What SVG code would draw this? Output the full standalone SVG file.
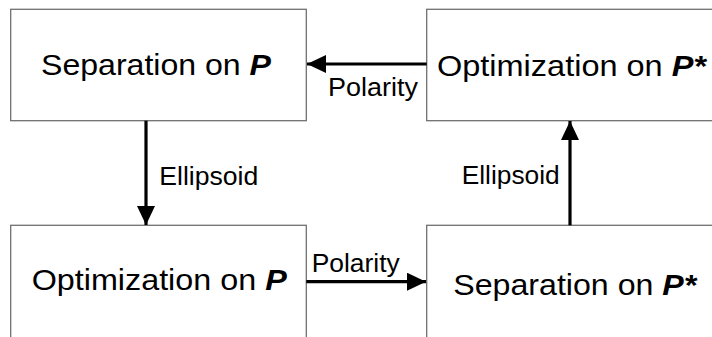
<svg xmlns="http://www.w3.org/2000/svg" width="712" height="337" viewBox="0 0 712 337">
  <style>
    .box { fill: #ffffff; stroke: #707070; stroke-width: 1.3; }
    .title { font-family: "Liberation Sans", Arial, sans-serif; font-size: 30px; fill: #000; }
    .label { font-family: "Liberation Sans", Arial, sans-serif; font-size: 25px; fill: #000; }
    .var { font-weight: bold; font-style: italic; }
    .edge { stroke: #000; stroke-width: 3.2; fill: none; }
  </style>
  <defs>
    <marker id="arrow" markerUnits="userSpaceOnUse" markerWidth="20" markerHeight="18" refX="19" refY="9" orient="auto">
      <path d="M0,0 L19,9 L0,18 Z" fill="#000"/>
    </marker>
  </defs>
  <rect width="712" height="337" fill="#ffffff"/>

  <g id="sep-p">
    <rect class="box" x="10.7" y="9.3" width="295.6" height="111.4"/>
    <text class="title" x="41" y="75" textLength="230" lengthAdjust="spacingAndGlyphs">Separation on <tspan class="var">P</tspan></text>
  </g>

  <g id="opt-pstar">
    <rect class="box" x="426.7" y="9.3" width="300" height="111.4"/>
    <text class="title" x="437" y="76" textLength="269" lengthAdjust="spacingAndGlyphs">Optimization on <tspan class="var">P*</tspan></text>
  </g>

  <g id="opt-p">
    <rect class="box" x="10.7" y="225.3" width="295.6" height="130"/>
    <text class="title" x="31.7" y="290" textLength="255" lengthAdjust="spacingAndGlyphs">Optimization on <tspan class="var">P</tspan></text>
  </g>

  <g id="sep-pstar">
    <rect class="box" x="426.7" y="225.3" width="300" height="130"/>
    <text class="title" x="453.3" y="295" textLength="243" lengthAdjust="spacingAndGlyphs">Separation on <tspan class="var">P*</tspan></text>
  </g>

  <g id="connectors">
    <line class="edge" x1="426.7" y1="64" x2="307" y2="64" marker-end="url(#arrow)"/>
    <line class="edge" x1="146" y1="120.7" x2="146" y2="225" marker-end="url(#arrow)"/>
    <line class="edge" x1="306.3" y1="281.7" x2="426" y2="281.7" marker-end="url(#arrow)"/>
    <line class="edge" x1="570" y1="225.3" x2="570" y2="121" marker-end="url(#arrow)"/>

    <text class="label" x="328" y="95.7" textLength="90" lengthAdjust="spacingAndGlyphs">Polarity</text>
    <text class="label" x="159.3" y="185" textLength="99" lengthAdjust="spacingAndGlyphs">Ellipsoid</text>
    <text class="label" x="311.7" y="271.7" textLength="88" lengthAdjust="spacingAndGlyphs">Polarity</text>
    <text class="label" x="461.7" y="184" textLength="98" lengthAdjust="spacingAndGlyphs">Ellipsoid</text>
  </g>
</svg>
